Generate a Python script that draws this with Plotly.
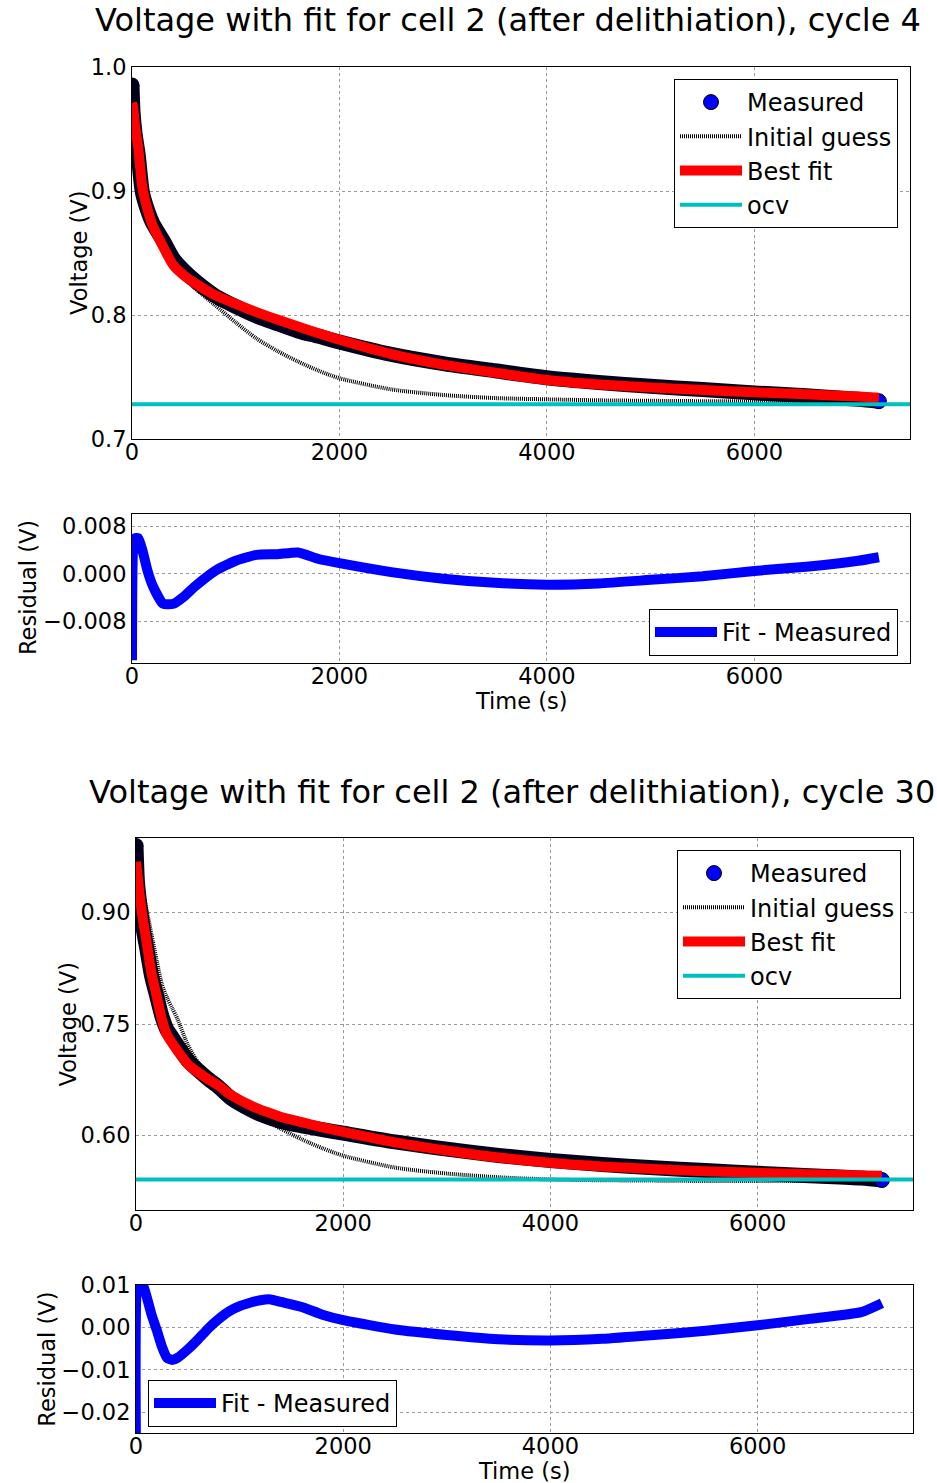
import plotly.graph_objects as go

# ---------------- data: cycle 4 ----------------
t_c4 = [0, 10, 30, 60, 100, 150, 200, 300, 400, 500, 600, 800, 1000, 1200, 1400,
        1600, 1800, 2000, 2500, 3000, 3500, 4000, 4500, 5000, 5500, 6000, 6500, 7000, 7200]
measured_c4 = [0.9855, 0.964, 0.946, 0.929, 0.899, 0.8845, 0.874, 0.860, 0.845, 0.8358,
               0.8282, 0.8155, 0.8068, 0.7991, 0.7930, 0.7871, 0.7828, 0.7782, 0.7682,
               0.7608, 0.7550, 0.7494, 0.7456, 0.7425, 0.7399, 0.7372, 0.7348, 0.732, 0.7305]
guess_c4 = [0.975, 0.968, 0.952, 0.933, 0.905, 0.884, 0.870, 0.853, 0.840, 0.830,
            0.822, 0.808, 0.794, 0.781, 0.771, 0.7625, 0.755, 0.749, 0.740, 0.7355,
            0.733, 0.732, 0.7312, 0.7308, 0.7305, 0.7303, 0.7302, 0.7301, 0.7300]
fit_c4 = [0.971, 0.968, 0.952, 0.935, 0.903, 0.885, 0.872, 0.855, 0.840, 0.832,
          0.826, 0.816, 0.809, 0.8023, 0.7963, 0.7907, 0.7853, 0.780, 0.7685, 0.760,
          0.7535, 0.7476, 0.744, 0.7415, 0.7395, 0.7377, 0.736, 0.7342, 0.7333]
residual_c4 = [-0.0145, 0.004, 0.006, 0.006, 0.004, 0.0005, -0.002, -0.005, -0.005, -0.0038,
               -0.0022, 0.0005, 0.0022, 0.0032, 0.0033, 0.0036, 0.0025, 0.0018, 0.0003,
               -0.0008, -0.0015, -0.0018, -0.0016, -0.001, -0.0004, 0.0005, 0.0012, 0.0022, 0.0028]
ocv_c4 = 0.728

# ---------------- data: cycle 30 ----------------
t_c30 = [0, 15, 40, 70, 100, 150, 200, 250, 300, 350, 400, 500, 600, 700, 800, 900, 1000,
         1100, 1200, 1300, 1400, 1600, 1800, 2000, 2500, 3000, 3500, 4000, 4500, 5000,
         5500, 6000, 6500, 7000, 7200]
measured_c30 = [0.990, 0.939, 0.9075, 0.878, 0.8545, 0.815, 0.7876, 0.7605, 0.742, 0.7317,
                0.7212, 0.7012, 0.6878, 0.6757, 0.665, 0.6522, 0.643, 0.6352, 0.6286,
                0.6234, 0.619, 0.6132, 0.608, 0.6033, 0.5915, 0.5818, 0.5733, 0.5666,
                0.5612, 0.5568, 0.553, 0.5495, 0.546, 0.5429, 0.5403]
guess_c30 = [0.970, 0.960, 0.945, 0.925, 0.905, 0.870, 0.835, 0.803, 0.785, 0.771,
             0.757, 0.722, 0.698, 0.682, 0.670, 0.658, 0.647, 0.636, 0.626, 0.617,
             0.609, 0.595, 0.583, 0.573, 0.557, 0.549, 0.544, 0.541, 0.540, 0.5395,
             0.539, 0.539, 0.539, 0.539, 0.539]
fit_c30 = [0.968, 0.950, 0.918, 0.888, 0.862, 0.818, 0.787, 0.756, 0.735, 0.724,
           0.714, 0.696, 0.685, 0.6755, 0.667, 0.656, 0.648, 0.641, 0.635, 0.630,
           0.625, 0.618, 0.611, 0.605, 0.591, 0.580, 0.5705, 0.5635, 0.5585, 0.555,
           0.5522, 0.550, 0.548, 0.5465, 0.546]
residual_c30 = [-0.030, 0.011, 0.0105, 0.0098, 0.0075, 0.003, -0.0006, -0.0045, -0.0072,
                -0.0077, -0.0072, -0.0052, -0.0028, -0.0002, 0.002, 0.0038, 0.005, 0.0058,
                0.0064, 0.0066, 0.006, 0.0048, 0.003, 0.0017, -0.0005, -0.0018, -0.0028,
                -0.0031, -0.0027, -0.0018, -0.0008, 0.0005, 0.002, 0.0036, 0.0057]
ocv_c30 = 0.541

time_range = [0, 7500]
time_ticks = [0, 2000, 4000, 6000]
time_ticktext = ["0", "2000", "4000", "6000"]
v_ticks_c4 = [0.7, 0.8, 0.9, 1.0]
v_ticktext_c4 = ["0.7", "0.8", "0.9", "1.0"]
r_ticks_c4 = [-0.008, 0.0, 0.008]
r_ticktext_c4 = ["\u22120.008", "0.000", "0.008"]
v_ticks_c30 = [0.60, 0.75, 0.90]
v_ticktext_c30 = ["0.60", "0.75", "0.90"]
r_ticks_c30 = [-0.02, -0.01, 0.0, 0.01]
r_ticktext_c30 = ["\u22120.02", "\u22120.01", "0.00", "0.01"]

FONT = "DejaVu Sans"
FS = 22.5
W, H = 937, 1483

fig = go.Figure()

SMOOTH = dict(shape="spline", smoothing=0.7)


def add_voltage(t, meas, guess, fit, ocv, xa, ya, leg):
    fig.add_trace(go.Scatter(x=t, y=meas, mode="lines",
                             line=dict(color="#00001c", width=15, **SMOOTH),
                             showlegend=False, xaxis=xa, yaxis=ya, hoverinfo="skip"))
    fig.add_trace(go.Scatter(x=[t[0]], y=[meas[0]], mode="markers", showlegend=False,
                             marker=dict(color="#00001c", size=15),
                             xaxis=xa, yaxis=ya, hoverinfo="skip"))
    fig.add_trace(go.Scatter(x=[t[-1]], y=[meas[-1]], mode="markers", name="Measured",
                             marker=dict(color="#0000ff", size=15, line=dict(color="black", width=1)),
                             xaxis=xa, yaxis=ya, legend=leg))
    fig.add_trace(go.Scatter(x=t, y=guess, mode="lines", name="Initial guess",
                             line=dict(color="black", width=4, dash="1px,1px", **SMOOTH),
                             xaxis=xa, yaxis=ya, legend=leg))
    fig.add_trace(go.Scatter(x=t, y=fit, mode="lines", name="Best fit",
                             line=dict(color="#ff0000", width=10, **SMOOTH),
                             xaxis=xa, yaxis=ya, legend=leg))
    fig.add_trace(go.Scatter(x=time_range, y=[ocv, ocv], mode="lines", name="ocv",
                             line=dict(color="#00bfbf", width=4),
                             xaxis=xa, yaxis=ya, legend=leg))


def add_residual(t, res, xa, ya, leg):
    fig.add_trace(go.Scatter(x=t, y=res, mode="lines", name="Fit - Measured",
                             line=dict(color="#0000ff", width=10, shape="spline", smoothing=0.5),
                             xaxis=xa, yaxis=ya, legend=leg))


add_voltage(t_c4, measured_c4, guess_c4, fit_c4, ocv_c4, "x", "y", "legend")
add_residual(t_c4, residual_c4, "x2", "y2", "legend2")
add_voltage(t_c30, measured_c30, guess_c30, fit_c30, ocv_c30, "x3", "y3", "legend3")
add_residual(t_c30, residual_c30, "x4", "y4", "legend4")


def px_x(p):
    return p / W


def px_y(p):
    return 1 - p / H


axis_style = dict(showline=True, mirror=True, linecolor="black", linewidth=1,
                  showgrid=True, gridcolor="#9a9a9a", griddash="dot", gridwidth=1,
                  zeroline=False, ticks="", automargin=False,
                  tickfont=dict(family=FONT, size=FS, color="black"))
xaxis_style = dict(axis_style, ticklabelstandoff=-7)

fig.update_layout(
    width=W, height=H, margin=dict(l=0, r=0, t=0, b=0),
    paper_bgcolor="white", plot_bgcolor="white", template="none",
    font=dict(family=FONT, size=FS, color="black"),
    xaxis=dict(domain=[px_x(132), px_x(910)], range=time_range, tickvals=time_ticks,
               ticktext=time_ticktext, anchor="y", **xaxis_style),
    yaxis=dict(domain=[px_y(439), px_y(67)], range=[0.7, 1.0], tickvals=v_ticks_c4,
               ticktext=v_ticktext_c4, anchor="x", **axis_style),
    xaxis2=dict(domain=[px_x(132), px_x(910)], range=time_range, tickvals=time_ticks,
                ticktext=time_ticktext, anchor="y2", **xaxis_style),
    yaxis2=dict(domain=[px_y(663.3), px_y(514.3)], range=[-0.015, 0.010], tickvals=r_ticks_c4,
                ticktext=r_ticktext_c4, anchor="x2", **axis_style),
    xaxis3=dict(domain=[px_x(136), px_x(913)], range=time_range, tickvals=time_ticks,
                ticktext=time_ticktext, anchor="y3", **xaxis_style),
    yaxis3=dict(domain=[px_y(1210), px_y(838)], range=[0.5, 1.0], tickvals=v_ticks_c30,
                ticktext=v_ticktext_c30, anchor="x3", **axis_style),
    xaxis4=dict(domain=[px_x(136), px_x(913)], range=time_range, tickvals=time_ticks,
                ticktext=time_ticktext, anchor="y4", **xaxis_style),
    yaxis4=dict(domain=[px_y(1433.3), px_y(1285)], range=[-0.025, 0.010], tickvals=r_ticks_c30,
                ticktext=r_ticktext_c30, anchor="x4", **axis_style),
)

leg_style = dict(bgcolor="white", bordercolor="black", borderwidth=1,
                 font=dict(family=FONT, size=24, color="black"), itemwidth=62)
fig.update_layout(
    legend=dict(x=px_x(898), y=px_y(79), xanchor="right", yanchor="top", **leg_style),
    legend2=dict(x=px_x(898), y=px_y(609), xanchor="right", yanchor="top", **leg_style),
    legend3=dict(x=px_x(901), y=px_y(850), xanchor="right", yanchor="top", **leg_style),
    legend4=dict(x=px_x(148), y=px_y(1380), xanchor="left", yanchor="top", **leg_style),
)

ann = []


def add_text(text, xp, yp, size=FS, angle=0):
    ann.append(dict(text=text, x=px_x(xp), y=px_y(yp), xref="paper", yref="paper",
                    showarrow=False, xanchor="center", yanchor="middle", textangle=angle,
                    font=dict(family=FONT, size=size, color="black")))


add_text("Voltage with fit for cell 2 (after delithiation), cycle 4", 508.5, 20, size=32)
add_text("Voltage with fit for cell 2 (after delithiation), cycle 30", 512, 792, size=32)
add_text("Voltage (V)", 79, 253, angle=-90)
add_text("Residual (V)", 28, 588, angle=-90)
add_text("Time (s)", 521, 701)
add_text("Voltage (V)", 67.5, 1024, angle=-90)
add_text("Residual (V)", 46.7, 1359, angle=-90)
add_text("Time (s)", 524.5, 1471)
fig.update_layout(annotations=ann)

fig.write_html("out.html")
